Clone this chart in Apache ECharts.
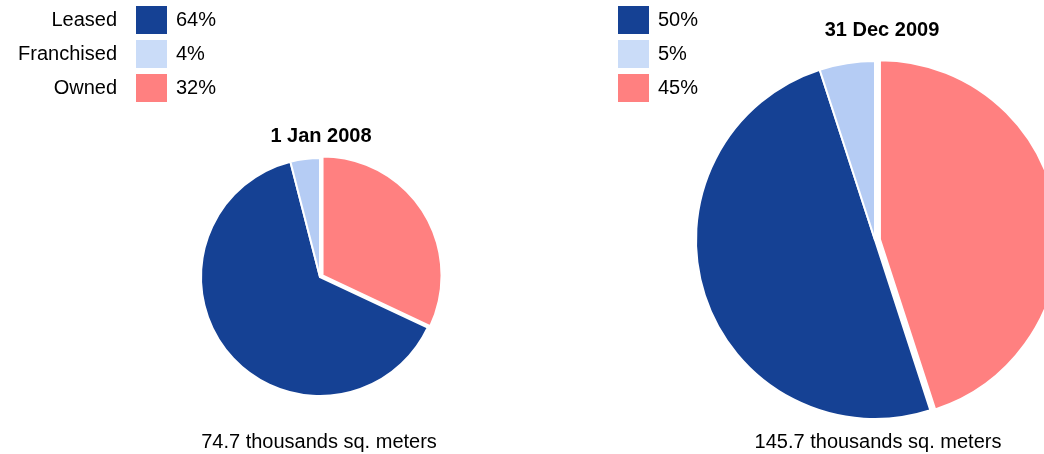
<!DOCTYPE html>
<html>
<head>
<meta charset="utf-8">
<script src="https://cdn.jsdelivr.net/npm/echarts@6/dist/echarts.min.js"></script>
<style>
  html, body { margin: 0; padding: 0; background: #ffffff; }
  #chart { width: 1044px; height: 454px; }
</style>
</head>
<body>
<div id="chart"></div>
<script>
// Floor space by tenure, share of total (%)
const categories = ['Owned', 'Leased', 'Franchised'];
const share2008 = [32, 64, 4];
const share2009 = [45, 50, 5];
const titles = ['1 Jan 2008', '31 Dec 2009'];
const totals = ['74.7 thousands sq. meters', '145.7 thousands sq. meters'];
// Legend rows are listed top to bottom
const legendOrder = ['Leased', 'Franchised', 'Owned'];

const FONT = '"Liberation Sans", Arial, sans-serif';
const FS = 20;
const sliceColors = { Owned: '#FF8080', Leased: '#154194', Franchised: '#B5CCF4' };
const keyColors = { Owned: '#FF8080', Leased: '#154194', Franchised: '#CADCF8' };

function pieData(values) {
  return categories.map((name, i) => ({
    name: name,
    value: values[i],
    selected: name === 'Owned',
    itemStyle: { color: sliceColors[name] }
  }));
}

// Legend key: names on the left, a swatch and percentage per pie
function legendGraphics() {
  const els = [];
  const rowY = [6, 40, 74];
  const columns = [
    { swatchX: 136, textX: 176, values: share2008, names: true },
    { swatchX: 618, textX: 658, values: share2009, names: false }
  ];
  legendOrder.forEach((name, r) => {
    const idx = categories.indexOf(name);
    columns.forEach(col => {
      if (col.names) {
        els.push({
          type: 'text', x: 117, y: rowY[r] + 14,
          style: { text: name, font: FS + 'px ' + FONT, fill: '#000', align: 'right', verticalAlign: 'middle' }
        });
      }
      els.push({
        type: 'rect', shape: { x: col.swatchX, y: rowY[r], width: 31, height: 28 },
        style: { fill: keyColors[name] }
      });
      els.push({
        type: 'text', x: col.textX, y: rowY[r] + 14,
        style: { text: col.values[idx] + '%', font: FS + 'px ' + FONT, fill: '#000', align: 'left', verticalAlign: 'middle' }
      });
    });
  });
  return els;
}

const chart = echarts.init(document.getElementById('chart'), null, { renderer: 'canvas' });

chart.setOption({
  animation: false,
  backgroundColor: '#ffffff',
  title: [
    { text: titles[0], left: 316, top: 121, textAlign: 'center',
      textStyle: { fontFamily: FONT, fontSize: FS, fontWeight: 'bold', color: '#000' } },
    { text: titles[1], left: 877, top: 15, textAlign: 'center',
      textStyle: { fontFamily: FONT, fontSize: FS, fontWeight: 'bold', color: '#000' } },
    { text: totals[0], left: 314, top: 427, textAlign: 'center',
      textStyle: { fontFamily: FONT, fontSize: FS, fontWeight: 'normal', color: '#000' } },
    { text: totals[1], left: 873, top: 427, textAlign: 'center',
      textStyle: { fontFamily: FONT, fontSize: FS, fontWeight: 'normal', color: '#000' } }
  ],
  graphic: legendGraphics(),
  series: [
    {
      type: 'pie',
      center: [320, 277],
      radius: 119,
      startAngle: 90,
      clockwise: true,
      selectedMode: 'single',
      selectedOffset: 3,
      label: { show: false },
      labelLine: { show: false },
      emphasis: { disabled: true },
      itemStyle: { borderColor: '#ffffff', borderWidth: 2 },
      data: pieData(share2008)
    },
    {
      type: 'pie',
      center: [875, 240],
      radius: 179,
      startAngle: 90,
      clockwise: true,
      selectedMode: 'single',
      selectedOffset: 5,
      label: { show: false },
      labelLine: { show: false },
      emphasis: { disabled: true },
      itemStyle: { borderColor: '#ffffff', borderWidth: 2 },
      data: pieData(share2009)
    }
  ]
});
</script>
</body>
</html>
